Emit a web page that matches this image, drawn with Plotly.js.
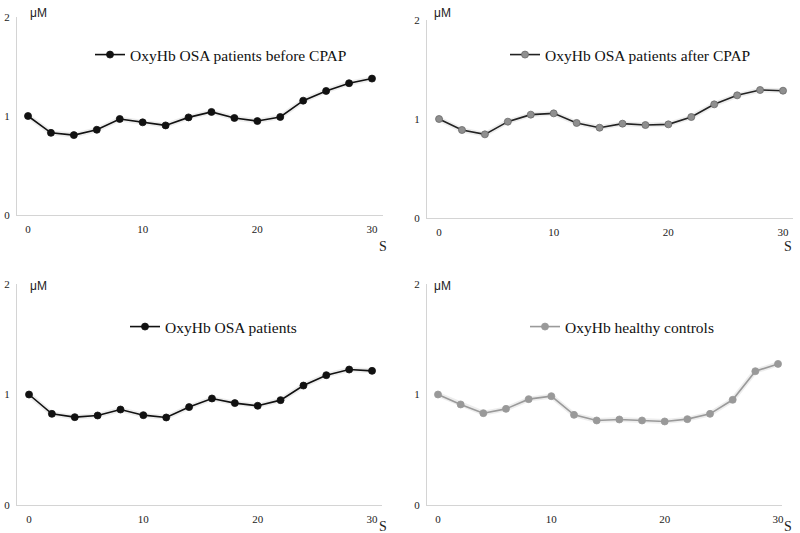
<!DOCTYPE html>
<html>
<head>
<meta charset="utf-8">
<script src="https://cdn.plot.ly/plotly-3.0.1.min.js"></script>
<style>html,body{margin:0;padding:0;background:#fff;}#chart{width:800px;height:533px;}</style>
</head>
<body>
<div id="chart"></div>
<script>
const timeS = [0, 2, 4, 6, 8, 10, 12, 14, 16, 18, 20, 22, 24, 26, 28, 30];
const beforeCPAP = [1.0, 0.83, 0.807, 0.861, 0.97, 0.936, 0.905, 0.986, 1.041, 0.98, 0.949, 0.99, 1.155, 1.253, 1.331, 1.378];
const afterCPAP = [1.0, 0.889, 0.845, 0.973, 1.044, 1.057, 0.96, 0.912, 0.953, 0.939, 0.946, 1.02, 1.148, 1.239, 1.293, 1.286];
const osaPatients = [1.0, 0.825, 0.795, 0.81, 0.864, 0.813, 0.792, 0.886, 0.964, 0.922, 0.898, 0.949, 1.081, 1.175, 1.226, 1.214];
const healthyControls = [1.0, 0.91, 0.831, 0.87, 0.958, 0.985, 0.816, 0.765, 0.774, 0.765, 0.756, 0.777, 0.825, 0.952, 1.211, 1.277];
const seriesNames = ["OxyHb OSA patients before CPAP", "OxyHb OSA patients after CPAP", "OxyHb OSA patients", "OxyHb healthy controls"];
const yTicks = [0, 1, 2];
const xTicks = [0, 10, 20, 30];

const serif = "Liberation Serif, Times New Roman, serif";
const sans = "Liberation Sans, Arial, sans-serif";

function shadow(y, xa, ya) {
  return {x: timeS, y: y, xaxis: xa, yaxis: ya, mode: 'lines', showlegend: false,
    hoverinfo: 'skip', line: {color: 'rgba(0,0,0,0.07)', width: 5}};
}
function series(y, name, xa, ya, leg, lineColor, mFill, mLine) {
  return {x: timeS, y: y, xaxis: xa, yaxis: ya, name: name, legend: leg, mode: 'lines+markers',
    line: {color: lineColor, width: 1.6},
    marker: {size: 7, color: mFill, line: {color: mLine, width: 0.8}}};
}

const data = [
  shadow(beforeCPAP, 'x', 'y'),
  series(beforeCPAP, seriesNames[0], 'x', 'y', 'legend', '#111', '#111', '#111'),
  shadow(afterCPAP, 'x2', 'y2'),
  series(afterCPAP, seriesNames[1], 'x2', 'y2', 'legend2', '#222', '#8f8f8f', '#6a6a6a'),
  shadow(osaPatients, 'x3', 'y3'),
  series(osaPatients, seriesNames[2], 'x3', 'y3', 'legend3', '#111', '#111', '#111'),
  shadow(healthyControls, 'x4', 'y4'),
  series(healthyControls, seriesNames[3], 'x4', 'y4', 'legend4', '#9a9a9a', '#999', '#999')
];

function xax(domain, range, anchor) {
  return {domain: domain, range: range, anchor: anchor, tickvals: xTicks, ticktext: xTicks.map(String),
    showgrid: false, zeroline: false, showline: true, linecolor: '#d4d4d4', linewidth: 1,
    ticks: '', ticklen: 0, ticklabelstandoff: 4,
    tickfont: {family: serif, size: 11, color: '#222'}, fixedrange: true};
}
function yax(domain, anchor) {
  return {domain: domain, range: [0, 2], anchor: anchor, tickvals: yTicks, ticktext: yTicks.map(String),
    showgrid: false, zeroline: false, showline: true, linecolor: '#d4d4d4', linewidth: 1,
    ticks: '', ticklen: 0, ticklabelstandoff: 4,
    tickfont: {family: serif, size: 11, color: '#222'}, fixedrange: true};
}
function leg(xpx, ypx) {
  return {x: xpx / 800, y: 1 - ypx / 533, xanchor: 'left', yanchor: 'middle', bgcolor: 'rgba(0,0,0,0)',
    font: {family: serif, size: 15.5, color: '#111'}, itemwidth: 30};
}
function ann(text, xpx, ypx, font) {
  return {text: text, x: xpx / 800, y: 1 - ypx / 533, xref: 'paper', yref: 'paper', showarrow: false,
    xanchor: 'left', yanchor: 'middle', font: font};
}
const muFont = {family: sans, size: 12, color: '#222'};
const sFont = {family: serif, size: 14, color: '#222'};

const layout = {
  width: 800, height: 533, margin: {l: 0, r: 0, t: 0, b: 0},
  paper_bgcolor: '#fff', plot_bgcolor: '#fff', showlegend: true,
  xaxis: xax([17/800, 383/800], [-0.96, 30.96], 'y'),
  yaxis: yax([1 - 215/533, 1 - 17/533], 'x'),
  xaxis2: xax([427/800, 793/800], [-1.05, 30.87], 'y2'),
  yaxis2: yax([1 - 218/533, 1 - 20/533], 'x2'),
  xaxis3: xax([17/800, 382/800], [-1.05, 30.87], 'y3'),
  yaxis3: yax([1 - 505/533, 1 - 284/533], 'x3'),
  xaxis4: xax([427/800, 782/800], [-0.97, 30.35], 'y4'),
  yaxis4: yax([1 - 505/533, 1 - 284/533], 'x4'),
  legend: leg(90, 55),
  legend2: leg(505, 55),
  legend3: leg(125, 327),
  legend4: leg(525, 327),
  annotations: [
    ann('μM', 28, 13, muFont), ann('S', 377, 247, sFont),
    ann('μM', 432, 13, muFont), ann('S', 782, 246, sFont),
    ann('μM', 28, 286, muFont), ann('S', 377, 526, sFont),
    ann('μM', 432, 286, muFont), ann('S', 782, 526, sFont)
  ]
};

Plotly.newPlot('chart', data, layout, {displayModeBar: false, staticPlot: true});
</script>
</body>
</html>
